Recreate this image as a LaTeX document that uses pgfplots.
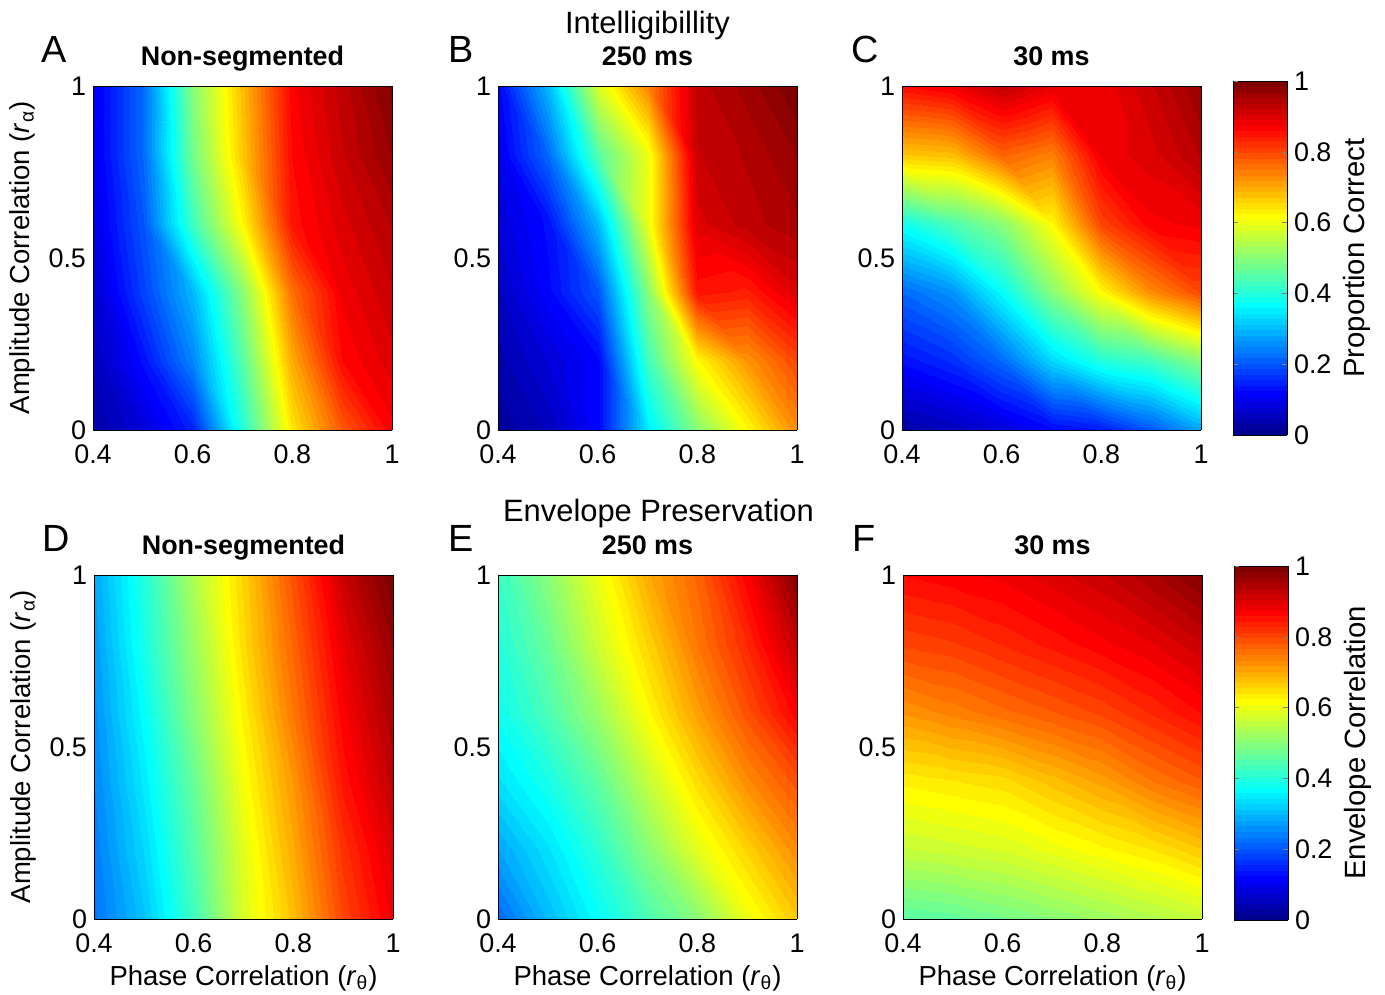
\documentclass[border=0pt]{standalone}
\usepackage{fontspec}
\setmainfont{Liberation Sans}
\usepackage{pgfplots}
\pgfplotsset{compat=1.18}

\newcommand{\fs}{\fontsize{13.5}{16}\selectfont}

% jet with 64 steps, like the MATLAB figure
\pgfplotsset{
  colormap={jet64}{
    rgb=(0,0,0.5625) rgb=(0,0,0.625) rgb=(0,0,0.6875) rgb=(0,0,0.75)
    rgb=(0,0,0.8125) rgb=(0,0,0.875) rgb=(0,0,0.9375) rgb=(0,0,1)
    rgb=(0,0.0625,1) rgb=(0,0.125,1) rgb=(0,0.1875,1) rgb=(0,0.25,1)
    rgb=(0,0.3125,1) rgb=(0,0.375,1) rgb=(0,0.4375,1) rgb=(0,0.5,1)
    rgb=(0,0.5625,1) rgb=(0,0.625,1) rgb=(0,0.6875,1) rgb=(0,0.75,1)
    rgb=(0,0.8125,1) rgb=(0,0.875,1) rgb=(0,0.9375,1) rgb=(0,1,1)
    rgb=(0.0625,1,0.9375) rgb=(0.125,1,0.875) rgb=(0.1875,1,0.8125) rgb=(0.25,1,0.75)
    rgb=(0.3125,1,0.6875) rgb=(0.375,1,0.625) rgb=(0.4375,1,0.5625) rgb=(0.5,1,0.5)
    rgb=(0.5625,1,0.4375) rgb=(0.625,1,0.375) rgb=(0.6875,1,0.3125) rgb=(0.75,1,0.25)
    rgb=(0.8125,1,0.1875) rgb=(0.875,1,0.125) rgb=(0.9375,1,0.0625) rgb=(1,1,0)
    rgb=(1,0.9375,0) rgb=(1,0.875,0) rgb=(1,0.8125,0) rgb=(1,0.75,0)
    rgb=(1,0.6875,0) rgb=(1,0.625,0) rgb=(1,0.5625,0) rgb=(1,0.5,0)
    rgb=(1,0.4375,0) rgb=(1,0.375,0) rgb=(1,0.3125,0) rgb=(1,0.25,0)
    rgb=(1,0.1875,0) rgb=(1,0.125,0) rgb=(1,0.0625,0) rgb=(1,0,0)
    rgb=(0.9375,0,0) rgb=(0.875,0,0) rgb=(0.8125,0,0) rgb=(0.75,0,0)
    rgb=(0.6875,0,0) rgb=(0.625,0,0) rgb=(0.5625,0,0) rgb=(0.5,0,0)
  },
  panel/.style={
    scale only axis, width=149.5bp, height=172bp,
    view={0}{90}, xmin=0.4, xmax=1, ymin=0, ymax=1,
    xtick={0.4,0.6,0.8,1}, ytick={0,0.5,1},
    major tick length=0pt,
    tick label style={font=\fs},
    xticklabel style={yshift=-4bp},
    /pgf/number format/assume math mode=true,
    colormap name=jet64, colormap access=piecewise constant,
    point meta min=0, point meta max=1,
    title style={font=\bfseries\fs, at={(0.5,1)}, anchor=base, yshift=4.5bp},
    label style={font=\fontsize{13.8}{16}\selectfont},
    xlabel style={at={(axis description cs:0.5,-0.192)}, anchor=base},
    ylabel style={at={(axis description cs:-0.237,0.5)}, anchor=center},
    axis on top, clip mode=individual,
  },
  cbar/.style 2 args={colorbar, colorbar style={
    at={(parent axis.north east)}, anchor=north west, xshift=7.5bp, yshift=#1,
    scale only axis, width=27bp, height=177bp,
    ytick={0,0.2,0.4,0.6,0.8,1}, major tick length=2.5bp, tick align=inside,
    tick label style={font=\fs},
    /pgf/number format/assume math mode=true,
    ylabel={#2},
    ylabel style={font=\fontsize{14.7}{17}\selectfont, at={(axis description cs:2.3,0.5)}, anchor=center},
  }},
}
\tikzset{letter/.style={font=\fontsize{19}{21}\selectfont, anchor=base west, xshift=-29.5bp, yshift=11.5bp}}

\begin{document}
\begin{tikzpicture}
\path[use as bounding box] (0,0) rectangle (692.5bp,497.5bp);

% A: intelligibility, non-segmented
\begin{axis}[panel, at={(46.5bp,282.5bp)}, anchor=south west,
  title={Non-segmented}, ylabel={Amplitude Correlation (\textit{r}\textsubscript{α})}]
\addplot3[surf, shader=interp, mesh/cols=7] coordinates {
(0.4,0,0.03) (0.5,0,0.08) (0.6,0,0.15) (0.7,0,0.40) (0.8,0,0.64) (0.9,0,0.78) (1,0,0.87)

(0.4,0.2,0.05) (0.5,0.2,0.13) (0.6,0.2,0.25) (0.7,0.2,0.45) (0.8,0.2,0.70) (0.9,0.2,0.86) (1,0.2,0.90)

(0.4,0.4,0.07) (0.5,0.4,0.18) (0.6,0.4,0.30) (0.7,0.4,0.50) (0.8,0.4,0.76) (0.9,0.4,0.88) (1,0.4,0.92)

(0.4,0.6,0.09) (0.5,0.6,0.20) (0.6,0.6,0.43) (0.7,0.6,0.62) (0.8,0.6,0.85) (0.9,0.6,0.90) (1,0.6,0.94)

(0.4,0.8,0.10) (0.5,0.8,0.22) (0.6,0.8,0.48) (0.7,0.8,0.67) (0.8,0.8,0.86) (0.9,0.8,0.92) (1,0.8,0.97)

(0.4,1,0.10) (0.5,1,0.22) (0.6,1,0.50) (0.7,1,0.68) (0.8,1,0.87) (0.9,1,0.93) (1,1,0.99)
};
\node[letter] at (axis description cs:0,1) {A};
\end{axis}

% B: intelligibility, 250 ms
\begin{axis}[panel, at={(249bp,282.5bp)}, anchor=south west, title={250 ms}]
\addplot3[surf, shader=interp, mesh/cols=7] coordinates {
(0.4,0,0.02) (0.5,0,0.05) (0.6,0,0.12) (0.7,0,0.35) (0.8,0,0.50) (0.9,0,0.62) (1,0,0.73)

(0.4,0.2,0.04) (0.5,0.2,0.08) (0.6,0.2,0.12) (0.7,0.2,0.43) (0.8,0.2,0.62) (0.9,0.2,0.72) (1,0.2,0.80)

(0.4,0.4,0.06) (0.5,0.4,0.12) (0.6,0.4,0.20) (0.7,0.4,0.50) (0.8,0.4,0.85) (0.9,0.4,0.84) (1,0.4,0.90)

(0.4,0.6,0.08) (0.5,0.6,0.13) (0.6,0.6,0.30) (0.7,0.6,0.60) (0.8,0.6,0.90) (0.9,0.6,0.93) (1,0.6,0.95)

(0.4,0.8,0.10) (0.5,0.8,0.22) (0.6,0.8,0.45) (0.7,0.8,0.60) (0.8,0.8,0.92) (0.9,0.8,0.94) (1,0.8,0.97)

(0.4,1,0.12) (0.5,1,0.30) (0.6,1,0.58) (0.7,1,0.74) (0.8,1,0.93) (0.9,1,0.96) (1,1,1.00)
};
\node[letter, xshift=1bp] at (axis description cs:0,1) {B};
\node[font=\fontsize{15.5}{18}\selectfont, anchor=base, yshift=26bp] at (axis description cs:0.5,1) {Intelligibillity};
\end{axis}

% C: intelligibility, 30 ms
\begin{axis}[panel, at={(451bp,282.5bp)}, anchor=south west, title={30 ms},
  cbar={2.5bp}{Proportion Correct}]
\addplot3[surf, shader=interp, mesh/cols=7] coordinates {
(0.4,0,0.03) (0.5,0,0.05) (0.6,0,0.08) (0.7,0,0.12) (0.8,0,0.14) (0.9,0,0.20) (1,0,0.28)

(0.4,0.2,0.13) (0.5,0.2,0.16) (0.6,0.2,0.22) (0.7,0.2,0.33) (0.8,0.2,0.40) (0.9,0.2,0.43) (1,0.2,0.50)

(0.4,0.4,0.22) (0.5,0.4,0.26) (0.6,0.4,0.37) (0.7,0.4,0.50) (0.8,0.4,0.62) (0.9,0.4,0.73) (1,0.4,0.80)

(0.4,0.6,0.38) (0.5,0.6,0.44) (0.6,0.6,0.50) (0.7,0.6,0.62) (0.8,0.6,0.80) (0.9,0.6,0.87) (1,0.6,0.88)

(0.4,0.8,0.67) (0.5,0.8,0.68) (0.6,0.8,0.77) (0.7,0.8,0.74) (0.8,0.8,0.88) (0.9,0.8,0.90) (1,0.8,0.94)

(0.4,1,0.86) (0.5,1,0.88) (0.6,1,0.93) (0.7,1,0.89) (0.8,1,0.88) (0.9,1,0.92) (1,1,0.97)
};
\node[letter, xshift=0.5bp] at (axis description cs:0,1) {C};
\end{axis}

% D: envelope, non-segmented
\begin{axis}[panel, at={(47bp,38bp)}, anchor=south west, title={Non-segmented},
  xlabel={Phase Correlation (\textit{r}\textsubscript{θ})},
  ylabel={Amplitude Correlation (\textit{r}\textsubscript{α})}]
\addplot3[surf, shader=interp, mesh/cols=7] coordinates {
(0.4,0,0.23) (0.5,0,0.31) (0.6,0,0.43) (0.7,0,0.58) (0.8,0,0.68) (0.9,0,0.80) (1,0,0.88)

(0.4,0.2,0.24) (0.5,0.2,0.33) (0.6,0.2,0.45) (0.7,0.2,0.59) (0.8,0.2,0.70) (0.9,0.2,0.82) (1,0.2,0.90)

(0.4,0.4,0.25) (0.5,0.4,0.35) (0.6,0.4,0.47) (0.7,0.4,0.61) (0.8,0.4,0.72) (0.9,0.4,0.85) (1,0.4,0.93)

(0.4,0.6,0.26) (0.5,0.6,0.37) (0.6,0.6,0.50) (0.7,0.6,0.63) (0.8,0.6,0.75) (0.9,0.6,0.87) (1,0.6,0.95)

(0.4,0.8,0.27) (0.5,0.8,0.39) (0.6,0.8,0.52) (0.7,0.8,0.65) (0.8,0.8,0.77) (0.9,0.8,0.89) (1,0.8,0.97)

(0.4,1,0.28) (0.5,1,0.40) (0.6,1,0.54) (0.7,1,0.66) (0.8,1,0.79) (0.9,1,0.92) (1,1,1.00)
};
\node[letter] at (axis description cs:0,1) {D};
\end{axis}

% E: envelope, 250 ms
\begin{axis}[panel, at={(249bp,38bp)}, anchor=south west, title={250 ms},
  xlabel={Phase Correlation (\textit{r}\textsubscript{θ})}]
\addplot3[surf, shader=interp, mesh/cols=7] coordinates {
(0.4,0,0.22) (0.5,0,0.30) (0.6,0,0.37) (0.7,0,0.44) (0.8,0,0.50) (0.9,0,0.60) (1,0,0.67)

(0.4,0.2,0.28) (0.5,0.2,0.34) (0.6,0.2,0.41) (0.7,0.2,0.50) (0.8,0.2,0.59) (0.9,0.2,0.66) (1,0.2,0.73)

(0.4,0.4,0.34) (0.5,0.4,0.39) (0.6,0.4,0.46) (0.7,0.4,0.56) (0.8,0.4,0.65) (0.9,0.4,0.73) (1,0.4,0.79)

(0.4,0.6,0.38) (0.5,0.6,0.44) (0.6,0.6,0.52) (0.7,0.6,0.62) (0.8,0.6,0.71) (0.9,0.6,0.79) (1,0.6,0.87)

(0.4,0.8,0.40) (0.5,0.8,0.47) (0.6,0.8,0.57) (0.7,0.8,0.66) (0.8,0.8,0.75) (0.9,0.8,0.83) (1,0.8,0.93)

(0.4,1,0.42) (0.5,1,0.50) (0.6,1,0.60) (0.7,1,0.70) (0.8,1,0.77) (0.9,1,0.87) (1,1,0.99)
};
\node[letter, xshift=1bp] at (axis description cs:0,1) {E};
\node[font=\fontsize{15.5}{18}\selectfont, anchor=base, xshift=5.5bp, yshift=26.5bp] at (axis description cs:0.5,1) {Envelope Preservation};
\end{axis}

% F: envelope, 30 ms
\begin{axis}[panel, at={(451.5bp,38bp)}, anchor=south west, title={30 ms},
  xlabel={Phase Correlation (\textit{r}\textsubscript{θ})},
  cbar={4.5bp}{Envelope Correlation}]
\addplot3[surf, shader=interp, mesh/cols=7] coordinates {
(0.4,0,0.45) (0.5,0,0.46) (0.6,0,0.48) (0.7,0,0.50) (0.8,0,0.52) (0.9,0,0.54) (1,0,0.56)

(0.4,0.2,0.56) (0.5,0.2,0.57) (0.6,0.2,0.58) (0.7,0.2,0.60) (0.8,0.2,0.62) (0.9,0.2,0.64) (1,0.2,0.67)

(0.4,0.4,0.63) (0.5,0.4,0.64) (0.6,0.4,0.65) (0.7,0.4,0.68) (0.8,0.4,0.71) (0.9,0.4,0.75) (1,0.4,0.78)

(0.4,0.6,0.72) (0.5,0.6,0.74) (0.6,0.6,0.76) (0.7,0.6,0.78) (0.8,0.6,0.80) (0.9,0.6,0.83) (1,0.6,0.86)

(0.4,0.8,0.80) (0.5,0.8,0.81) (0.6,0.8,0.83) (0.7,0.8,0.85) (0.8,0.8,0.87) (0.9,0.8,0.89) (1,0.8,0.92)

(0.4,1,0.86) (0.5,1,0.87) (0.6,1,0.88) (0.7,1,0.90) (0.8,1,0.92) (0.9,1,0.95) (1,1,0.99)
};
\node[letter, xshift=0.5bp] at (axis description cs:0,1) {F};
\end{axis}
\end{tikzpicture}
\end{document}
